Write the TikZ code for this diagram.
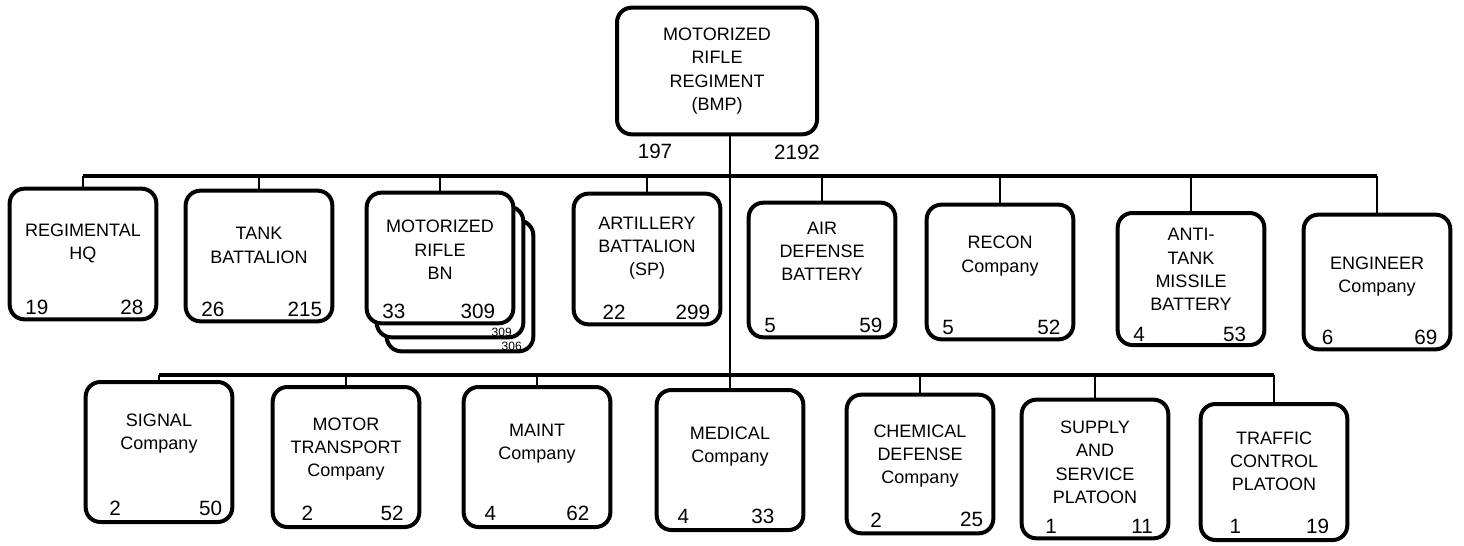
\documentclass[tikz,border=0pt]{standalone}
\usepackage{fontspec}
\setmainfont{Liberation Sans}
\usepackage{tikz}
\usetikzlibrary{positioning}

\begin{document}
\begin{tikzpicture}[
  x=0.75pt, y=-0.75pt,
  unit/.style  = {draw, line width=3pt, rounded corners=11pt, fill=white,
                  minimum width=110pt, minimum height=#1, inner sep=0pt},
  unit/.default = 98pt,
  txt/.style   = {align=center, font=\fontsize{13.5}{17.5}\selectfont, inner sep=1pt},
  num/.style   = {font=\fontsize{15.5}{15.5}\selectfont, inner sep=1pt},
  snum/.style  = {font=\fontsize{9}{9}\selectfont, inner sep=0pt},
  bus/.style   = {line width=2.8pt},
  link/.style  = {line width=2pt},
]
\useasboundingbox (0,0) rectangle (1464,546);

%% ── REGIMENT ────────────────────────────────────────────────────────────
\node[unit=95pt, minimum width=150pt, txt] (regt) at (717,71)
      {MOTORIZED\\RIFLE\\REGIMENT\\(BMP)};
\node[num] (regt-off) at (655,151) {197};
\node[num] (regt-enl) at (797,152) {2192};

%% ── TOP ROW ─────────────────────────────────────────────────────────────
\node[unit] (hq)    at (83,254)   {};
\node[unit] (tank)  at (259,256)  {};
% rifle battalions: three boxes stacked
\node[unit] (mrb-b2) at (460,286) {};
\node[snum, above left=2pt and 10pt of mrb-b2.south east] (mrb-b2-enl) {306};
\node[unit] (mrb-b1) at (450,272) {};
\node[snum, above left=2pt and 10pt of mrb-b1.south east] (mrb-b1-enl) {309};
\node[unit] (mrb)   at (440,258)  {};
\node[unit] (art)   at (647,259)  {};
\node[unit=101pt] (ad)    at (822,270)  {};
\node[unit=101pt] (recon) at (1000,272) {};
\node[unit=99pt]  (atm)   at (1191,279) {};
\node[unit=101pt] (eng)   at (1377,282) {};

\node[txt] (hq-name)    at ([yshift=8pt]hq.center)    {REGIMENTAL\\HQ};
\node[txt] (tank-name)  at ([yshift=8pt]tank.center)  {TANK\\BATTALION};
\node[txt] (mrb-name)   at ([yshift=6pt]mrb.center)   {MOTORIZED\\RIFLE\\BN};
\node[txt] (art-name)   at ([yshift=8pt]art.center)   {ARTILLERY\\BATTALION\\(SP)};
\node[txt] (ad-name)    at ([yshift=14pt]ad.center)   {AIR\\DEFENSE\\BATTERY};
\node[txt] (recon-name) at ([yshift=12pt]recon.center) {RECON\\Company};
\node[txt] (atm-name)   at ([yshift=7pt]atm.center)   {ANTI-\\TANK\\MISSILE\\BATTERY};
\node[txt] (eng-name)   at ([yshift=4pt]eng.center)   {ENGINEER\\Company};

\node[num, above right=4pt and 12pt of hq.south west]    (hq-off)    {19};
\node[num, above left=4pt and 10pt of hq.south east]     (hq-enl)    {28};
\node[num, above right=4pt and 12pt of tank.south west]  (tank-off)  {26};
\node[num, above left=4pt and 8pt of tank.south east]    (tank-enl)  {215};
\node[num, above right=4pt and 12pt of mrb.south west]   (mrb-off)   {33};
\node[num, above left=4pt and 14pt of mrb.south east]    (mrb-enl)   {309};
\node[num, above right=4pt and 22pt of art.south west]   (art-off)   {22};
\node[num, above left=4pt and 8pt of art.south east]     (art-enl)   {299};
\node[num, above right=4pt and 12pt of ad.south west]    (ad-off)    {5};
\node[num, above left=4pt and 10pt of ad.south east]     (ad-enl)    {59};
\node[num, above right=4pt and 12pt of recon.south west] (recon-off) {5};
\node[num, above left=4pt and 10pt of recon.south east]  (recon-enl) {52};
\node[num, above right=3pt and 12pt of atm.south west]   (atm-off)   {4};
\node[num, above left=3pt and 14pt of atm.south east]    (atm-enl)   {53};
\node[num, above right=4pt and 14pt of eng.south west]   (eng-off)   {6};
\node[num, above left=4pt and 10pt of eng.south east]    (eng-enl)   {69};

%% ── BOTTOM ROW ──────────────────────────────────────────────────────────
\node[unit=105pt] (sig)     at (159,452)  {};
\node[unit=105pt] (mtr)     at (346,457)  {};
\node[unit=105pt] (maint)   at (537,457)  {};
\node[unit=105pt] (med)     at (730,460)  {};
\node[unit=104pt] (chem)    at (920,464)  {};
\node[unit=104pt] (supply)  at (1095,469) {};
\node[unit=102pt] (traffic) at (1274,472) {};

\node[txt] (sig-name)     at ([yshift=14pt]sig.center)    {SIGNAL\\Company};
\node[txt] (mtr-name)     at ([yshift=6pt]mtr.center)     {MOTOR\\TRANSPORT\\Company};
\node[txt] (maint-name)   at ([yshift=10pt]maint.center)  {MAINT\\Company};
\node[txt] (med-name)     at ([yshift=10pt]med.center)    {MEDICAL\\Company};
\node[txt] (chem-name)    at ([yshift=6pt]chem.center)    {CHEMICAL\\DEFENSE\\Company};
\node[txt] (supply-name)  at ([yshift=5pt]supply.center)  {SUPPLY\\AND\\SERVICE\\PLATOON};
\node[txt] (traffic-name) at ([yshift=8pt]traffic.center) {TRAFFIC\\CONTROL\\PLATOON};

\node[num, above right=5pt and 18pt of sig.south west]     (sig-off)     {2};
\node[num, above left=5pt and 8pt of sig.south east]       (sig-enl)     {50};
\node[num, above right=5pt and 22pt of mtr.south west]     (mtr-off)     {2};
\node[num, above left=5pt and 12pt of mtr.south east]      (mtr-enl)     {52};
\node[num, above right=5pt and 16pt of maint.south west]   (maint-off)   {4};
\node[num, above left=5pt and 16pt of maint.south east]    (maint-enl)   {62};
\node[num, above right=5pt and 16pt of med.south west]     (med-off)     {4};
\node[num, above left=5pt and 22pt of med.south east]      (med-enl)     {33};
\node[num, above right=5pt and 18pt of chem.south west]    (chem-off)    {2};
\node[num, above left=5pt and 8pt of chem.south east]      (chem-enl)    {25};
\node[num, above right=4pt and 18pt of supply.south west]  (supply-off)  {1};
\node[num, above left=4pt and 12pt of supply.south east]   (supply-enl)  {11};
\node[num, above right=5pt and 22pt of traffic.south west] (traffic-off) {1};
\node[num, above left=5pt and 14pt of traffic.south east]  (traffic-enl) {19};

%% ── LINES ───────────────────────────────────────────────────────────────
\coordinate (busT) at (0,176);
\coordinate (busB) at (0,375);

\draw[bus] (hq.north |- busT) -- (eng.north |- busT);
\foreach \u in {hq,tank,mrb,art,ad,recon,atm,eng}
  \draw[link] (\u.north |- busT) -- (\u.north);

\draw[bus] (sig.north |- busB) -- (traffic.north |- busB);
\foreach \u in {sig,mtr,maint,med,chem,supply,traffic}
  \draw[link] (\u.north |- busB) -- (\u.north);

% trunk from the regiment down to the lower bus
\draw[link] (regt.south -| med.north) -- (med.north);

\end{tikzpicture}
\end{document}
